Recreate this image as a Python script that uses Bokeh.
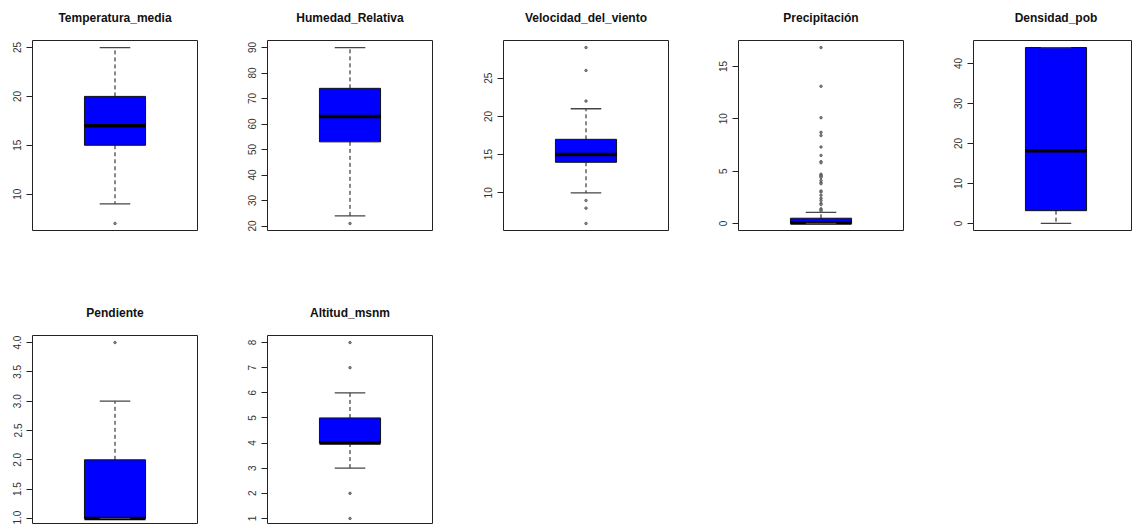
from bokeh.plotting import figure
from bokeh.layouts import column, row
from bokeh.models import Range1d, FixedTicker, PrintfTickFormatter, Label
from bokeh.embed import file_html
from bokeh.resources import INLINE

# ---- data ----
names = ["Temperatura_media", "Humedad_Relativa", "Velocidad_del_viento",
         "Precipitación", "Densidad_pob", "Pendiente", "Altitud_msnm"]
whisker_low = [9, 24, 10, 0, 0, 1, 3]
q1 = [15, 53, 14, 0, 3.2, 1, 4]
median = [17, 63, 15, 0.05, 18.2, 1, 4]
q3 = [20, 74, 17, 0.5, 44, 2, 5]
whisker_high = [25, 90, 21, 1.05, 44, 3, 6]

out_temperatura = [7]
out_humedad = [21]
out_viento = [29, 26, 22, 9, 8, 6]
out_precipitacion = [16.8, 13.1, 10.1, 8.7, 8.4, 7.3, 6.5, 5.9, 5.8, 4.7, 4.6,
                     4.5, 4.4, 4.1, 3.9, 3.8, 3.1, 3.0, 2.7, 2.4, 2.2, 1.9,
                     1.8, 1.4, 1.3, 1.2]
out_densidad = []
out_pendiente = [4]
out_altitud = [8, 7, 2, 1]
outliers = [out_temperatura, out_humedad, out_viento, out_precipitacion,
            out_densidad, out_pendiente, out_altitud]

ticks_temperatura = [10, 15, 20, 25]
ticks_humedad = [20, 30, 40, 50, 60, 70, 80, 90]
ticks_viento = [10, 15, 20, 25]
ticks_precipitacion = [0, 5, 10, 15]
ticks_densidad = [0, 10, 20, 30, 40]
ticks_pendiente = [1.0, 1.5, 2.0, 2.5, 3.0, 3.5, 4.0]
ticks_altitud = [1, 2, 3, 4, 5, 6, 7, 8]
ticks = [ticks_temperatura, ticks_humedad, ticks_viento, ticks_precipitacion,
         ticks_densidad, ticks_pendiente, ticks_altitud]

# ---- layout geometry ----
FONT = "Liberation Sans"
FRAME_W = 165
FRAME_H = 190
TITLE_GAP = 22.5


def make_panel(i, fig_w, frame_w, frame_h, border_bottom):
    lo = min([whisker_low[i]] + outliers[i])
    hi = max([whisker_high[i]] + outliers[i])
    span = (hi - lo) * 1.08
    y_end = hi + 0.04 * (hi - lo)
    y_start = y_end - span * frame_h / FRAME_H
    x_start = 0.46
    x_end = x_start + 1.08 * frame_w / FRAME_W

    p = figure(frame_width=frame_w, frame_height=frame_h,
               min_border_left=32, min_border_right=fig_w - 32 - frame_w,
               min_border_top=40, min_border_bottom=border_bottom,
               x_range=Range1d(x_start, x_end), y_range=Range1d(y_start, y_end),
               x_axis_location=None, output_backend="svg",
               toolbar_location=None)
    p.grid.visible = False
    p.outline_line_color = "#222222"
    p.outline_line_width = 1
    p.background_fill_color = "white"
    p.border_fill_color = "white"

    # panel title, centred over the 165 px plot box
    p.add_layout(Label(x=FRAME_W / 2, y=TITLE_GAP,
                       x_units="screen", y_units="screen", text=names[i],
                       text_font=FONT, text_font_style="bold",
                       text_font_size="12px", text_color="#111111",
                       text_align="center", text_baseline="middle"),
                 "above")

    ax = p.yaxis[0]
    ax.ticker = FixedTicker(ticks=ticks[i])
    if i == 5:
        ax.formatter = PrintfTickFormatter(format="%.1f")
    ax.axis_line_color = None
    ax.major_tick_out = 6
    ax.major_tick_in = 0
    ax.major_tick_line_color = "#222222"
    ax.minor_tick_line_color = None
    ax.major_label_orientation = "vertical"
    ax.major_label_text_font = FONT
    ax.major_label_text_font_size = "10px"
    ax.major_label_text_color = "#333333"
    ax.major_label_standoff = 5

    # box
    p.vbar(x=[1], width=0.4, bottom=[q1[i]], top=[q3[i]],
           fill_color="#0000FF", line_color="#111111", line_width=1)
    # median
    p.segment(x0=[0.8], x1=[1.2], y0=[median[i]], y1=[median[i]],
              line_color="black", line_width=3.5)
    # whiskers
    p.segment(x0=[1, 1], x1=[1, 1], y0=[q3[i], q1[i]],
              y1=[whisker_high[i], whisker_low[i]],
              line_color="#111111", line_width=1, line_dash="4 3")
    # staples
    p.segment(x0=[0.9, 0.9], x1=[1.1, 1.1],
              y0=[whisker_high[i], whisker_low[i]],
              y1=[whisker_high[i], whisker_low[i]],
              line_color="#444444", line_width=1.3)
    # outliers
    if outliers[i]:
        p.scatter(x=[1] * len(outliers[i]), y=outliers[i], marker="circle",
                  size=2.5, line_color="#555555", fill_color="#888888",
                  line_width=0.8)
    return p


row1_widths = [235, 236, 235, 235, 191]
row1 = []
for i in range(5):
    fw = FRAME_W if i < 4 else row1_widths[i] - 32
    row1.append(make_panel(i, row1_widths[i], fw, FRAME_H, 65))

row2_widths = [235, 236]
row2 = []
for k, i in enumerate([5, 6]):
    row2.append(make_panel(i, row2_widths[k], FRAME_W, FRAME_H - 1, 0))

layout = column(row(*row1, spacing=0), row(*row2, spacing=0), spacing=0)

open("out.html", "w").write(file_html(layout, INLINE))
